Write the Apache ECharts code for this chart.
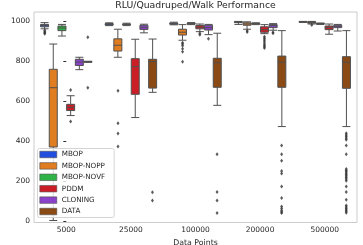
<!DOCTYPE html>
<html><head><meta charset="utf-8">
<script src="https://cdn.jsdelivr.net/npm/echarts@6/dist/echarts.min.js"></script>
<style>html,body{margin:0;padding:0;background:#fff}#c{width:363px;height:245px}</style>
</head><body><div id="c"></div><script>
// ---- data ----
const categories = ['5000', '25000', '100000', '200000', '500000'];
const seriesNames = ['MBOP', 'MBOP-NOPP', 'MBOP-NOVF', 'PDDM', 'CLONING', 'DATA'];
const yTicks = [0, 200, 400, 600, 800, 1000];

// box stats per category: [lower whisker, Q1, median, Q3, upper whisker]
const mbopBox = [[962, 972, 978, 984, 993], [978, 981, 985, 988, 992], [982, 985, 988, 991, 995], [984, 993, 995, 997, 999], [994, 996, 997, 998, 999]];
const noppBox = [[5, 372, 668, 760, 886], [820, 851, 880, 912, 960], [905, 931, 945, 960, 983], [960, 980, 986, 992, 997], [986, 990, 994, 997, 999]];
const novfBox = [[926, 953, 966, 976, 984], [978, 982, 984, 986, 990], [983, 986, 988, 990, 993], [983, 986, 988, 990, 992], [984, 986, 988, 989, 991]];
const pddmBox = [[529, 554, 570, 585, 628], [519, 635, 773, 813, 910], [948, 962, 970, 979, 986], [938, 945, 958, 972, 983], [935, 958, 968, 976, 986]];
const cloningBox = [[758, 779, 796, 810, 820], [942, 959, 970, 980, 985], [933, 956, 968, 980, 984], [955, 968, 978, 983, 988], [951, 968, 975, 980, 984]];
const dataBox = [[795, 796, 797, 799, 800], [645, 666, 798, 810, 911], [580, 670, 792, 815, 940], [474, 670, 795, 826, 953], [474, 665, 795, 823, 953]];

// outliers per category
const mbopOut = [[955, 948, 942, 938], [], [], [], []];
const noppOut = [[], [653, 491, 439, 374], [893, 886, 878, 862, 847, 797], [952, 946], [981]];
const novfOut = [[], [], [], [], []];
const pddmOut = [[657, 499], [], [940, 933], [922, 915, 906, 897, 888, 880, 872, 866], []];
const cloningOut = [[], [], [912], [945, 940], []];
const dataOut = [[920, 668], [146, 105], [336, 147, 105, 42],
  [379, 336, 303, 252, 240, 175, 117, 75, 65, 55, 47, 42],
  [440, 432, 424, 416, 408, 379, 336, 262, 255, 248, 241, 234, 227, 220, 212, 204, 175, 147, 108, 80, 72, 65, 58, 51, 44]];

// ---- chart ----
const colors = ['#224edf', '#df7d20', '#30b346', '#cb1d25', '#8a42cb', '#8b4a14'];
const boxes = [mbopBox, noppBox, novfBox, pddmBox, cloningBox, dataBox];
const outs = [mbopOut, noppOut, novfOut, pddmOut, cloningOut, dataOut];
const FONT = 'DejaVu Sans';
const LINE = '#505050';
const n = seriesNames.length;

const series = [];
seriesNames.forEach((name, k) => {
  series.push({
    type: 'boxplot', name: name, data: boxes[k], xAxisIndex: 0, yAxisIndex: 0,
    boxWidth: [8, 8],
    itemStyle: { color: colors[k], borderColor: LINE, borderWidth: 1 },
    emphasis: { disabled: true }, z: 2
  });
});
seriesNames.forEach((name, k) => {
  const off = -0.4 + 0.8 / n * (k + 0.5);
  const pts = [];
  outs[k].forEach((list, g) => list.forEach(v => pts.push([g + off, v])));
  series.push({
    type: 'scatter', name: name + ' outliers', xAxisIndex: 1, yAxisIndex: 0, data: pts,
    symbol: 'diamond', symbolSize: [3, 4], itemStyle: { color: '#333333' },
    silent: true, z: 3
  });
});

const chart = echarts.init(document.getElementById('c'), null, { renderer: 'canvas' });
chart.setOption({
  animation: false,
  color: colors,
  title: {
    text: 'RLU/Quadruped/Walk Performance', left: 195.5, top: 1.5, textAlign: 'center', padding: 0,
    textStyle: { fontFamily: FONT, fontSize: 9.3, fontWeight: 'normal', color: '#262626' }
  },
  grid: { left: 34, right: 6, top: 12, bottom: 22.5, show: true, borderColor: '#cccccc', borderWidth: 1,
    containLabel: false, outerBoundsMode: 'none' },
  legend: {
    orient: 'vertical', left: 37.5, top: 148.5,
    data: seriesNames.map((s, k) => ({ name: s, icon: 'rect',
      itemStyle: { color: colors[k], borderColor: LINE, borderWidth: 0.6 } })),
    itemWidth: 17, itemHeight: 6.5, itemGap: 3.4,
    padding: [2, 9, 2, 2],
    backgroundColor: 'rgba(255,255,255,0.8)', borderColor: '#d4d4d4', borderWidth: 1, borderRadius: 2,
    textStyle: { fontFamily: FONT, fontSize: 7.2, color: '#262626', lineHeight: 8 },
    z: 10
  },
  xAxis: [{
    type: 'category', data: categories, boundaryGap: true,
    axisLine: { show: false }, axisTick: { show: false }, splitLine: { show: false },
    axisLabel: { fontFamily: FONT, fontSize: 7.5, color: '#262626', margin: 4 },
    name: 'Data Points', nameLocation: 'middle', nameGap: 12,
    nameTextStyle: { fontFamily: FONT, fontSize: 7.8, color: '#262626' }
  }, {
    type: 'value', min: -0.5, max: 4.5, show: false
  }],
  yAxis: {
    type: 'value', min: -5, max: 1046,
    splitLine: { show: false }, axisLine: { show: false },
    axisTick: { show: true, length: 3, lineStyle: { color: '#333' }, customValues: yTicks },
    axisLabel: { fontFamily: FONT, fontSize: 7.5, color: '#262626', margin: 4, customValues: yTicks,
      formatter: v => String(v) },
    name: 'Episode Return', nameLocation: 'middle', nameGap: 26,
    nameTextStyle: { fontFamily: FONT, fontSize: 7.8, color: '#262626' }
  },
  series: series
});
</script></body></html>
